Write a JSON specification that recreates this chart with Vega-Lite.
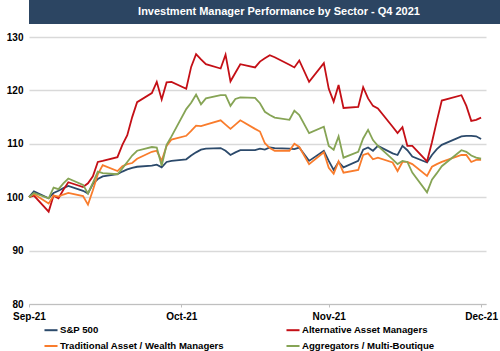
{
  "$schema": "https://vega.github.io/schema/vega-lite/v6.json",
  "padding": 0,
  "spacing": 8,
  "background": "white",
  "config": {
    "view": {"stroke": null},
    "font": "Liberation Sans",
    "concat": {"spacing": 8}
  },
  "vconcat": [
    {
      "width": 500,
      "height": 24,
      "data": {"values": [{"x0": 0, "x1": 1, "xm": 0.5, "t": "Investment Manager Performance by Sector - Q4 2021"}]},
      "layer": [
        {
          "mark": {"type": "rect", "color": "#2C4562"},
          "encoding": {
            "x": {"field": "x0", "type": "quantitative", "scale": {"domain": [0, 1], "nice": false}, "axis": null},
            "x2": {"field": "x1"}
          }
        },
        {
          "mark": {"type": "text", "color": "white", "fontWeight": "bold", "fontSize": 11, "font": "Liberation Sans"},
          "encoding": {
            "x": {"field": "xm", "type": "quantitative", "scale": {"domain": [0, 1], "nice": false}, "axis": null},
            "text": {"field": "t"}
          }
        }
      ]
    },
    {
      "width": 457,
      "height": 267,
      "data": {
        "values": [
          {"date": "2021-09-30", "S&P 500": 100, "Alternative Asset Managers": 100, "Traditional Asset / Wealth Managers": 100, "Aggregators / Multi-Boutique": 100},
          {"date": "2021-10-01", "S&P 500": 101.1, "Alternative Asset Managers": 100.3, "Traditional Asset / Wealth Managers": 100.6, "Aggregators / Multi-Boutique": 100.8},
          {"date": "2021-10-04", "S&P 500": 99.8, "Alternative Asset Managers": 97.3, "Traditional Asset / Wealth Managers": 98.8, "Aggregators / Multi-Boutique": 99.8},
          {"date": "2021-10-05", "S&P 500": 100.8, "Alternative Asset Managers": 100.3, "Traditional Asset / Wealth Managers": 100.3, "Aggregators / Multi-Boutique": 101.8},
          {"date": "2021-10-06", "S&P 500": 101.2, "Alternative Asset Managers": 99.8, "Traditional Asset / Wealth Managers": 100.1, "Aggregators / Multi-Boutique": 101.5},
          {"date": "2021-10-07", "S&P 500": 101.7, "Alternative Asset Managers": 101.4, "Traditional Asset / Wealth Managers": 100.5, "Aggregators / Multi-Boutique": 102.6},
          {"date": "2021-10-08", "S&P 500": 102.1, "Alternative Asset Managers": 102.8, "Traditional Asset / Wealth Managers": 100.8, "Aggregators / Multi-Boutique": 103.5},
          {"date": "2021-10-11", "S&P 500": 101.2, "Alternative Asset Managers": 101.9, "Traditional Asset / Wealth Managers": 100.2, "Aggregators / Multi-Boutique": 102.3},
          {"date": "2021-10-12", "S&P 500": 100.7, "Alternative Asset Managers": 102.6, "Traditional Asset / Wealth Managers": 98.6, "Aggregators / Multi-Boutique": 100.7},
          {"date": "2021-10-13", "S&P 500": 102.5, "Alternative Asset Managers": 103.9, "Traditional Asset / Wealth Managers": 101.3, "Aggregators / Multi-Boutique": 102.7},
          {"date": "2021-10-14", "S&P 500": 103.4, "Alternative Asset Managers": 106.6, "Traditional Asset / Wealth Managers": 104.3, "Aggregators / Multi-Boutique": 104.8},
          {"date": "2021-10-15", "S&P 500": 103.9, "Alternative Asset Managers": 106.8, "Traditional Asset / Wealth Managers": 106.0, "Aggregators / Multi-Boutique": 104.5},
          {"date": "2021-10-18", "S&P 500": 104.3, "Alternative Asset Managers": 107.5, "Traditional Asset / Wealth Managers": 104.9, "Aggregators / Multi-Boutique": 104.3},
          {"date": "2021-10-19", "S&P 500": 104.8, "Alternative Asset Managers": 109.8, "Traditional Asset / Wealth Managers": 105.8, "Aggregators / Multi-Boutique": 105.4},
          {"date": "2021-10-20", "S&P 500": 105.2, "Alternative Asset Managers": 111.6, "Traditional Asset / Wealth Managers": 106.2, "Aggregators / Multi-Boutique": 106.6},
          {"date": "2021-10-21", "S&P 500": 105.5, "Alternative Asset Managers": 115.0, "Traditional Asset / Wealth Managers": 106.4, "Aggregators / Multi-Boutique": 107.8},
          {"date": "2021-10-22", "S&P 500": 105.7, "Alternative Asset Managers": 117.8, "Traditional Asset / Wealth Managers": 107.2, "Aggregators / Multi-Boutique": 108.7},
          {"date": "2021-10-25", "S&P 500": 105.9, "Alternative Asset Managers": 119.5, "Traditional Asset / Wealth Managers": 108.5, "Aggregators / Multi-Boutique": 109.4},
          {"date": "2021-10-26", "S&P 500": 106.1, "Alternative Asset Managers": 121.6, "Traditional Asset / Wealth Managers": 108.7, "Aggregators / Multi-Boutique": 109.3},
          {"date": "2021-10-27", "S&P 500": 105.6, "Alternative Asset Managers": 118.3, "Traditional Asset / Wealth Managers": 106.8, "Aggregators / Multi-Boutique": 105.9},
          {"date": "2021-10-28", "S&P 500": 106.6, "Alternative Asset Managers": 121.5, "Traditional Asset / Wealth Managers": 109.6, "Aggregators / Multi-Boutique": 109.8},
          {"date": "2021-10-29", "S&P 500": 106.8, "Alternative Asset Managers": 121.6, "Traditional Asset / Wealth Managers": 110.8, "Aggregators / Multi-Boutique": 111.4},
          {"date": "2021-11-01", "S&P 500": 107.1, "Alternative Asset Managers": 120.3, "Traditional Asset / Wealth Managers": 111.5, "Aggregators / Multi-Boutique": 116.5},
          {"date": "2021-11-02", "S&P 500": 107.8, "Alternative Asset Managers": 124.4, "Traditional Asset / Wealth Managers": 112.4, "Aggregators / Multi-Boutique": 117.7},
          {"date": "2021-11-03", "S&P 500": 108.4, "Alternative Asset Managers": 126.8, "Traditional Asset / Wealth Managers": 113.4, "Aggregators / Multi-Boutique": 119.2},
          {"date": "2021-11-04", "S&P 500": 108.9, "Alternative Asset Managers": 125.8, "Traditional Asset / Wealth Managers": 113.3, "Aggregators / Multi-Boutique": 117.4},
          {"date": "2021-11-05", "S&P 500": 109.1, "Alternative Asset Managers": 124.9, "Traditional Asset / Wealth Managers": 113.6, "Aggregators / Multi-Boutique": 118.5},
          {"date": "2021-11-08", "S&P 500": 109.2, "Alternative Asset Managers": 124.1, "Traditional Asset / Wealth Managers": 114.4, "Aggregators / Multi-Boutique": 119.1},
          {"date": "2021-11-09", "S&P 500": 108.7, "Alternative Asset Managers": 126.7, "Traditional Asset / Wealth Managers": 113.6, "Aggregators / Multi-Boutique": 119.1},
          {"date": "2021-11-10", "S&P 500": 107.9, "Alternative Asset Managers": 121.7, "Traditional Asset / Wealth Managers": 112.8, "Aggregators / Multi-Boutique": 117.1},
          {"date": "2021-11-11", "S&P 500": 108.4, "Alternative Asset Managers": 123.3, "Traditional Asset / Wealth Managers": 113.6, "Aggregators / Multi-Boutique": 118.4},
          {"date": "2021-11-12", "S&P 500": 108.8, "Alternative Asset Managers": 124.9, "Traditional Asset / Wealth Managers": 114.4, "Aggregators / Multi-Boutique": 118.7},
          {"date": "2021-11-15", "S&P 500": 108.8, "Alternative Asset Managers": 124.3, "Traditional Asset / Wealth Managers": 112.8, "Aggregators / Multi-Boutique": 118.6},
          {"date": "2021-11-16", "S&P 500": 109.1, "Alternative Asset Managers": 125.4, "Traditional Asset / Wealth Managers": 112.3, "Aggregators / Multi-Boutique": 117.6},
          {"date": "2021-11-17", "S&P 500": 108.9, "Alternative Asset Managers": 126.0, "Traditional Asset / Wealth Managers": 110.1, "Aggregators / Multi-Boutique": 116.0},
          {"date": "2021-11-18", "S&P 500": 109.3, "Alternative Asset Managers": 126.6, "Traditional Asset / Wealth Managers": 109.2, "Aggregators / Multi-Boutique": 115.4},
          {"date": "2021-11-19", "S&P 500": 109.2, "Alternative Asset Managers": 126.2, "Traditional Asset / Wealth Managers": 108.7, "Aggregators / Multi-Boutique": 114.9},
          {"date": "2021-11-22", "S&P 500": 109.1, "Alternative Asset Managers": 124.8, "Traditional Asset / Wealth Managers": 108.7, "Aggregators / Multi-Boutique": 114.5},
          {"date": "2021-11-23", "S&P 500": 109.0, "Alternative Asset Managers": 124.3, "Traditional Asset / Wealth Managers": 110.0, "Aggregators / Multi-Boutique": 116.2},
          {"date": "2021-11-24", "S&P 500": 109.3, "Alternative Asset Managers": 125.6, "Traditional Asset / Wealth Managers": 109.4, "Aggregators / Multi-Boutique": 115.4},
          {"date": "2021-11-26", "S&P 500": 106.8, "Alternative Asset Managers": 121.6, "Traditional Asset / Wealth Managers": 106.2, "Aggregators / Multi-Boutique": 112.0},
          {"date": "2021-11-29", "S&P 500": 108.7, "Alternative Asset Managers": 125.1, "Traditional Asset / Wealth Managers": 108.4, "Aggregators / Multi-Boutique": 113.2},
          {"date": "2021-11-30", "S&P 500": 106.8, "Alternative Asset Managers": 120.3, "Traditional Asset / Wealth Managers": 105.5, "Aggregators / Multi-Boutique": 109.6},
          {"date": "2021-12-01", "S&P 500": 105.1, "Alternative Asset Managers": 117.9, "Traditional Asset / Wealth Managers": 104.4, "Aggregators / Multi-Boutique": 108.9},
          {"date": "2021-12-02", "S&P 500": 106.6, "Alternative Asset Managers": 121.0, "Traditional Asset / Wealth Managers": 106.7, "Aggregators / Multi-Boutique": 111.4},
          {"date": "2021-12-03", "S&P 500": 105.6, "Alternative Asset Managers": 116.7, "Traditional Asset / Wealth Managers": 104.6, "Aggregators / Multi-Boutique": 107.4},
          {"date": "2021-12-06", "S&P 500": 106.8, "Alternative Asset Managers": 116.9, "Traditional Asset / Wealth Managers": 105.1, "Aggregators / Multi-Boutique": 108.5},
          {"date": "2021-12-07", "S&P 500": 108.9, "Alternative Asset Managers": 120.6, "Traditional Asset / Wealth Managers": 107.9, "Aggregators / Multi-Boutique": 111.0},
          {"date": "2021-12-08", "S&P 500": 109.3, "Alternative Asset Managers": 118.5, "Traditional Asset / Wealth Managers": 108.2, "Aggregators / Multi-Boutique": 112.6},
          {"date": "2021-12-09", "S&P 500": 108.7, "Alternative Asset Managers": 117.1, "Traditional Asset / Wealth Managers": 107.1, "Aggregators / Multi-Boutique": 110.7},
          {"date": "2021-12-10", "S&P 500": 109.6, "Alternative Asset Managers": 116.6, "Traditional Asset / Wealth Managers": 107.4, "Aggregators / Multi-Boutique": 109.6},
          {"date": "2021-12-13", "S&P 500": 108.2, "Alternative Asset Managers": 113.2, "Traditional Asset / Wealth Managers": 106.5, "Aggregators / Multi-Boutique": 107.1},
          {"date": "2021-12-14", "S&P 500": 107.9, "Alternative Asset Managers": 112.0, "Traditional Asset / Wealth Managers": 104.9, "Aggregators / Multi-Boutique": 106.2},
          {"date": "2021-12-15", "S&P 500": 109.6, "Alternative Asset Managers": 113.1, "Traditional Asset / Wealth Managers": 106.6, "Aggregators / Multi-Boutique": 106.8},
          {"date": "2021-12-16", "S&P 500": 108.8, "Alternative Asset Managers": 109.6, "Traditional Asset / Wealth Managers": 106.6, "Aggregators / Multi-Boutique": 106.6},
          {"date": "2021-12-17", "S&P 500": 107.6, "Alternative Asset Managers": 109.6, "Traditional Asset / Wealth Managers": 106.2, "Aggregators / Multi-Boutique": 104.6},
          {"date": "2021-12-20", "S&P 500": 106.5, "Alternative Asset Managers": 106.7, "Traditional Asset / Wealth Managers": 104.0, "Aggregators / Multi-Boutique": 100.9},
          {"date": "2021-12-21", "S&P 500": 107.9, "Alternative Asset Managers": 110.3, "Traditional Asset / Wealth Managers": 105.7, "Aggregators / Multi-Boutique": 103.3},
          {"date": "2021-12-22", "S&P 500": 109.0, "Alternative Asset Managers": 114.3, "Traditional Asset / Wealth Managers": 106.2, "Aggregators / Multi-Boutique": 104.5},
          {"date": "2021-12-23", "S&P 500": 109.8, "Alternative Asset Managers": 118.1, "Traditional Asset / Wealth Managers": 106.6, "Aggregators / Multi-Boutique": 105.8},
          {"date": "2021-12-27", "S&P 500": 111.4, "Alternative Asset Managers": 119.1, "Traditional Asset / Wealth Managers": 107.9, "Aggregators / Multi-Boutique": 108.8},
          {"date": "2021-12-28", "S&P 500": 111.5, "Alternative Asset Managers": 117.1, "Traditional Asset / Wealth Managers": 107.9, "Aggregators / Multi-Boutique": 108.5},
          {"date": "2021-12-29", "S&P 500": 111.5, "Alternative Asset Managers": 114.3, "Traditional Asset / Wealth Managers": 106.6, "Aggregators / Multi-Boutique": 107.8},
          {"date": "2021-12-30", "S&P 500": 111.4, "Alternative Asset Managers": 114.5, "Traditional Asset / Wealth Managers": 107.0, "Aggregators / Multi-Boutique": 107.4},
          {"date": "2021-12-31", "S&P 500": 110.9, "Alternative Asset Managers": 114.9, "Traditional Asset / Wealth Managers": 107.0, "Aggregators / Multi-Boutique": 107.2}
        ]
      },
      "transform": [
        {"fold": ["S&P 500", "Alternative Asset Managers", "Traditional Asset / Wealth Managers", "Aggregators / Multi-Boutique"], "as": ["series", "value"]}
      ],
      "mark": {"type": "line", "strokeWidth": 1.8},
      "encoding": {
        "x": {
          "field": "date",
          "type": "temporal",
          "scale": {
            "type": "utc",
            "domain": [
              {"year": 2021, "month": "sep", "date": 30, "utc": true},
              {"year": 2022, "month": "jan", "date": 1, "utc": true}
            ]
          },
          "axis": {
            "values": [
              {"year": 2021, "month": "sep", "date": 30, "utc": true},
              {"year": 2021, "month": "oct", "date": 31, "utc": true},
              {"year": 2021, "month": "nov", "date": 30, "utc": true},
              {"year": 2021, "month": "dec", "date": 31, "utc": true}
            ],
            "labelExpr": "utcFormat(datum.value, '%b-%y')",
            "title": null,
            "grid": false,
            "domainColor": "#BFBFBF",
            "domainWidth": 1,
            "tickColor": "#BFBFBF",
            "tickSize": 3,
            "labelPadding": 4,
            "labelFont": "Liberation Sans",
            "labelFontSize": 10,
            "labelFontWeight": "bold",
            "labelColor": "black",
            "labelFlush": false
          }
        },
        "y": {
          "field": "value",
          "type": "quantitative",
          "scale": {"domain": [80, 130], "nice": false, "zero": false},
          "axis": {
            "values": [80, 90, 100, 110, 120, 130],
            "title": null,
            "domain": false,
            "ticks": false,
            "gridColor": "#D9D9D9",
            "gridWidth": 1.5,
            "labelPadding": 6,
            "minExtent": 29,
            "labelFont": "Liberation Sans",
            "labelFontSize": 10,
            "labelFontWeight": "bold",
            "labelColor": "black"
          }
        },
        "color": {
          "field": "series",
          "type": "nominal",
          "scale": {
            "domain": ["S&P 500", "Alternative Asset Managers", "Traditional Asset / Wealth Managers", "Aggregators / Multi-Boutique"],
            "range": ["#2C4A6B", "#C40F16", "#F97C2C", "#86A455"]
          },
          "legend": {
            "title": null,
            "orient": "none",
            "direction": "horizontal",
            "legendX": 14,
            "legendY": 322,
            "columns": 2,
            "columnPadding": 57,
            "rowPadding": 3,
            "symbolType": "stroke",
            "symbolSize": 170,
            "symbolStrokeWidth": 2,
            "labelOffset": 1,
            "labelLimit": 400,
            "labelFont": "Liberation Sans",
            "labelFontSize": 9.6,
            "labelFontWeight": "bold",
            "labelColor": "black",
            "padding": 0
          }
        }
      }
    }
  ]
}
